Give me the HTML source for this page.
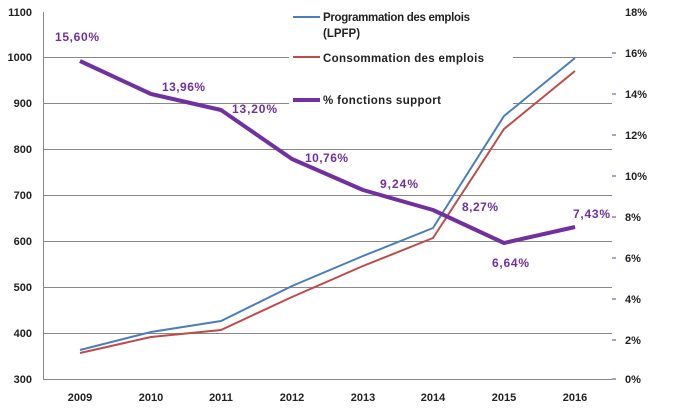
<!DOCTYPE html>
<html><head><meta charset="utf-8"><style>html,body{margin:0;padding:0;background:#fff}svg{display:block}</style></head>
<body>
<svg width="686" height="418" xmlns="http://www.w3.org/2000/svg" font-family="Liberation Sans, sans-serif">
<g stroke="#888" stroke-width="1">
<line x1="43" y1="57.5" x2="612" y2="57.5"/>
<line x1="43" y1="103.5" x2="612" y2="103.5"/>
<line x1="43" y1="149.5" x2="612" y2="149.5"/>
<line x1="43" y1="195.5" x2="612" y2="195.5"/>
<line x1="43" y1="241.5" x2="612" y2="241.5"/>
<line x1="43" y1="287.5" x2="612" y2="287.5"/>
<line x1="43" y1="333.5" x2="612" y2="333.5"/>
<line x1="43" y1="379.5" x2="612" y2="379.5"/>
<line x1="43.5" y1="12" x2="43.5" y2="380"/>
</g>
<rect x="289" y="5" width="224" height="108" fill="#fff"/>
<g font-size="11" font-weight="bold" fill="#222" text-anchor="end">
<text x="32" y="16">1100</text><text x="32" y="61">1000</text><text x="32" y="107">900</text><text x="32" y="153">800</text><text x="32" y="199">700</text><text x="32" y="245">600</text><text x="32" y="291">500</text><text x="32" y="337">400</text><text x="32" y="383">300</text>
</g>
<g font-size="11" font-weight="bold" fill="#222">
<text x="625" y="16">18%</text><text x="625" y="57">16%</text><text x="625" y="98">14%</text><text x="625" y="139">12%</text><text x="625" y="180">10%</text><text x="625" y="221">8%</text><text x="625" y="262">6%</text><text x="625" y="303">4%</text><text x="625" y="344">2%</text><text x="625" y="383">0%</text>
</g>
<g stroke="#7030a0" stroke-width="1">
<line x1="612" y1="53" x2="616" y2="53"/><line x1="612" y1="94" x2="616" y2="94"/><line x1="612" y1="135" x2="616" y2="135"/><line x1="612" y1="176" x2="616" y2="176"/><line x1="612" y1="217" x2="616" y2="217"/><line x1="612" y1="258" x2="616" y2="258"/><line x1="612" y1="299" x2="616" y2="299"/><line x1="612" y1="340" x2="616" y2="340"/><line x1="612" y1="379" x2="616" y2="379"/>
</g>
<g font-size="11" font-weight="bold" fill="#222" text-anchor="middle">
<text x="80" y="401">2009</text><text x="151" y="401">2010</text><text x="221" y="401">2011</text><text x="292" y="401">2012</text><text x="363" y="401">2013</text><text x="433" y="401">2014</text><text x="504" y="401">2015</text><text x="575" y="401">2016</text>
</g>
<polyline fill="none" stroke="#4a7ebb" stroke-width="2" points="80,350 151,332 221,321 292,286 363,256 433,228 504,116 575,58"/>
<polyline fill="none" stroke="#be4b48" stroke-width="2" points="80,353 151,337 221,330 292,297 363,266 433,238 504,129 575,71"/>
<polyline fill="none" stroke="#7030a0" stroke-width="4" stroke-linejoin="round" points="80,61 151,94 221,110 292,159 363,190 433,210 504,243 575,227"/>
<g font-size="12" font-weight="bold" fill="#7030a0">
<text x="55" y="41" textLength="44">15,60%</text><text x="162" y="91" textLength="43">13,96%</text><text x="232" y="113" textLength="45">13,20%</text><text x="305" y="162" textLength="43">10,76%</text><text x="380" y="188" textLength="38">9,24%</text><text x="462" y="211" textLength="36">8,27%</text><text x="492" y="267" textLength="37">6,64%</text><text x="573" y="218" textLength="37">7,43%</text>
</g>
<line x1="293" y1="17" x2="320" y2="17" stroke="#4a7ebb" stroke-width="2"/>
<line x1="293" y1="57" x2="320" y2="57" stroke="#be4b48" stroke-width="2"/>
<line x1="293" y1="100" x2="320" y2="100" stroke="#7030a0" stroke-width="4"/>
<g font-size="11.5" font-weight="bold" fill="#222">
<text x="323" y="21" textLength="147">Programmation des emplois</text><text x="323" y="37">(LPFP)</text><text x="323" y="62" textLength="161">Consommation des emplois</text><text x="323" y="104" textLength="118">% fonctions support</text>
</g>
</svg>
</body></html>
